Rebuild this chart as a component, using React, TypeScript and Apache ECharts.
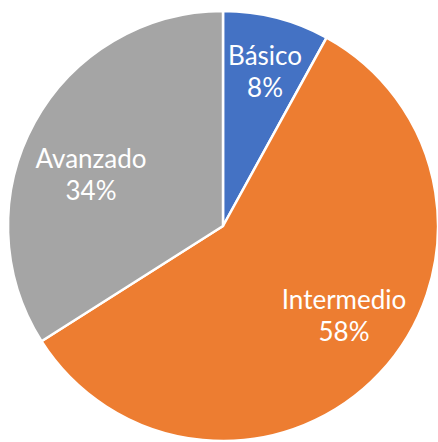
import React, { useEffect, useRef } from "react";
import * as echarts from "echarts";

const categories = ["Básico", "Intermedio", "Avanzado"];
const values = [8, 58, 34];
const colors = ["#4472C4", "#ED7D31", "#A5A5A5"];
const labelPos: [number, number][] = [
  [265, 71],
  [344, 315],
  [91, 174],
];

export default function App() {
  const ref = useRef<HTMLDivElement>(null);
  useEffect(() => {
    const chart = echarts.init(ref.current!, null, { renderer: "svg" });
    chart.setOption({
      animation: false,
      series: [
        {
          type: "pie",
          center: [223, 226],
          radius: [0, 215],
          startAngle: 90,
          clockwise: true,
          data: categories.map((name, i) => ({
            name,
            value: values[i],
            itemStyle: { color: colors[i] },
          })),
          itemStyle: { borderColor: "#ffffff", borderWidth: 2.5 },
          label: {
            show: true,
            position: "inside",
            formatter: "{b}\n{d}%",
            color: "#ffffff",
            fontFamily: "Lato",
            fontSize: 26,
            lineHeight: 32,
            align: "center",
          },
          labelLine: { show: false },
          labelLayout: (p: any) => ({
            x: labelPos[p.dataIndex][0],
            y: labelPos[p.dataIndex][1],
            align: "center",
            verticalAlign: "middle",
          }),
          emphasis: { disabled: true },
        },
      ],
    });
    return () => chart.dispose();
  }, []);
  return (
    <div
      ref={ref}
      style={{ position: "fixed", left: 0, top: 0, width: 438, height: 442, background: "#ffffff" }}
    />
  );
}
